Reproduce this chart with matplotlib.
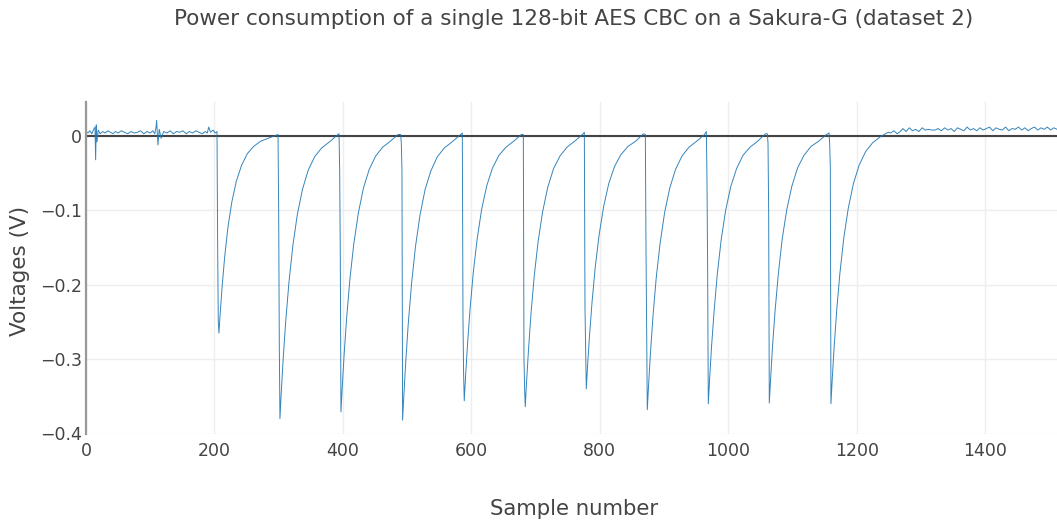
import matplotlib
matplotlib.use("Agg")
import matplotlib.pyplot as plt

# ---------------- text ----------------
title = "Power consumption of a single 128-bit AES CBC on a Sakura-G (dataset 2)"
x_label = "Sample number"
y_label = "Voltages (V)"
x_ticks = [0, 200, 400, 600, 800, 1000, 1200, 1400]
x_tick_labels = ["0", "200", "400", "600", "800", "1000", "1200", "1400"]
y_ticks = [0, -0.1, -0.2, -0.3, -0.4]
y_tick_labels = ["0", "\u22120.1", "\u22120.2", "\u22120.3", "\u22120.4"]

# ---------------- data ----------------
# idle baseline before the first round
pre_samples = [0, 3, 6, 9, 12, 14, 15, 16, 17, 19, 22, 26, 30, 34, 38, 42, 46, 50,
               55, 60, 65, 70, 75, 80, 85, 90, 95, 100, 104, 107, 109, 110, 112,
               114, 117, 121, 126, 131, 136, 141, 146, 151, 156, 161, 166, 171,
               176, 181, 186, 189, 191, 194, 198, 201, 204]
pre_volts = [0.006, 0.004, 0.007, 0.003, 0.009, 0.012, -0.032, 0.015, -0.008, 0.008,
             0.003, 0.006, 0.004, 0.007, 0.005, 0.003, 0.006, 0.004, 0.007, 0.005,
             0.003, 0.006, 0.004, 0.005, 0.007, 0.003, 0.006, 0.004, 0.007, 0.003,
             0.011, 0.021, -0.012, 0.009, -0.003, 0.006, 0.004, 0.007, 0.003, 0.006,
             0.005, 0.007, 0.003, 0.006, 0.004, 0.007, 0.005, 0.003, 0.006, 0.004,
             0.012, 0.005, 0.008, 0.004, 0.006]

# start sample of each round's current draw (drop), and the shape after it
drop_samples = [204, 299, 394, 490, 586, 681, 776, 871, 966, 1061, 1157]
dip_offsets = [1, 2, 3, 5, 8, 12, 17, 23, 30, 38, 47, 57, 68, 80, 92]

dip01_volts = [-0.150, -0.250, -0.265, -0.238, -0.202, -0.162, -0.123, -0.089, -0.061,
               -0.040, -0.024, -0.014, -0.007, -0.003, 0.001]
dip02_volts = [-0.100, -0.280, -0.380, -0.346, -0.300, -0.249, -0.197, -0.148, -0.106,
               -0.072, -0.046, -0.028, -0.016, -0.008, 0.001]
dip03_volts = [-0.046, -0.163, -0.371, -0.338, -0.293, -0.243, -0.192, -0.145, -0.104,
               -0.070, -0.045, -0.027, -0.015, -0.007, 0.002]
dip04_volts = [-0.010, -0.046, -0.382, -0.348, -0.302, -0.250, -0.198, -0.149, -0.107,
               -0.072, -0.047, -0.028, -0.016, -0.008, 0.001]
dip05_volts = [-0.244, -0.320, -0.356, -0.324, -0.281, -0.233, -0.184, -0.139, -0.099,
               -0.067, -0.043, -0.026, -0.015, -0.007, 0.002]
dip06_volts = [-0.300, -0.340, -0.364, -0.331, -0.288, -0.238, -0.188, -0.142, -0.102,
               -0.069, -0.044, -0.027, -0.015, -0.007, 0.002]
dip07_volts = [-0.230, -0.290, -0.340, -0.309, -0.269, -0.223, -0.176, -0.133, -0.095,
               -0.064, -0.041, -0.025, -0.014, -0.007, 0.003]
dip08_volts = [-0.150, -0.260, -0.368, -0.335, -0.291, -0.241, -0.190, -0.144, -0.103,
               -0.070, -0.045, -0.027, -0.015, -0.007, 0.002]
dip09_volts = [-0.063, -0.180, -0.360, -0.328, -0.284, -0.236, -0.186, -0.140, -0.100,
               -0.068, -0.044, -0.026, -0.015, -0.007, 0.003]
dip10_volts = [-0.010, -0.100, -0.359, -0.327, -0.283, -0.235, -0.186, -0.139, -0.100,
               -0.068, -0.043, -0.026, -0.014, -0.007, 0.002]
dip11_volts = [-0.010, -0.040, -0.360, -0.327, -0.283, -0.234, -0.184, -0.137, -0.097,
               -0.064, -0.039, -0.021, -0.009, -0.001, 0.005]
dip_volts = [dip01_volts, dip02_volts, dip03_volts, dip04_volts, dip05_volts,
             dip06_volts, dip07_volts, dip08_volts, dip09_volts, dip10_volts,
             dip11_volts]
dip_lead_volts = [0.006, 0.002, 0.003, 0.002, 0.004, 0.002, 0.005, 0.002, 0.006,
                  0.003, 0.004]

# idle baseline after the last round
post_samples = [1253, 1258, 1263, 1268, 1272, 1277, 1282, 1287, 1292, 1297, 1302,
                1307, 1312, 1317, 1322, 1327, 1332, 1337, 1342, 1347, 1352, 1357,
                1362, 1367, 1372, 1377, 1382, 1387, 1392, 1397, 1402, 1407, 1412,
                1417, 1422, 1427, 1432, 1437, 1442, 1447, 1452, 1457, 1462, 1467,
                1472, 1477, 1482, 1487, 1492, 1497, 1502, 1507, 1512]
post_volts = [0.004, 0.007, 0.003, 0.006, 0.010, 0.006, 0.011, 0.007, 0.009, 0.006,
              0.011, 0.008, 0.009, 0.008, 0.008, 0.010, 0.007, 0.011, 0.008, 0.010,
              0.006, 0.011, 0.009, 0.007, 0.012, 0.008, 0.010, 0.007, 0.011, 0.008,
              0.010, 0.012, 0.007, 0.011, 0.009, 0.008, 0.012, 0.007, 0.010, 0.009,
              0.012, 0.008, 0.011, 0.007, 0.010, 0.012, 0.008, 0.011, 0.009, 0.012,
              0.008, 0.011, 0.009]

# assemble the trace
samples = list(pre_samples)
volts = list(pre_volts)
for start, lead, vals in zip(drop_samples, dip_lead_volts, dip_volts):
    samples.append(start)
    volts.append(lead)
    samples.extend(start + o for o in dip_offsets)
    volts.extend(vals)
samples.extend(post_samples)
volts.extend(post_volts)

# ---------------- figure ----------------
W, H = 1057, 520
fig = plt.figure(figsize=(W / 100, H / 100), dpi=100)
fig.patch.set_facecolor("white")
ax = fig.add_axes([86 / W, 1 - 433.5 / H, (W - 86) / W, (433.5 - 102) / H])
ax.set_facecolor("white")

ax.plot(samples, volts, color="#1f77b4", lw=0.7, alpha=0.9, zorder=3)
ax.axhline(0, color="#444444", lw=1.5, zorder=2)

ax.set_xlim(0, 1512)
ax.set_ylim(-0.4, 0.0457)
ax.set_xticks(x_ticks)
ax.set_xticklabels(x_tick_labels)
ax.set_yticks(y_ticks)
ax.set_yticklabels(y_tick_labels)
ax.grid(True, color="#eeeeee", lw=1.0, zorder=0)
ax.set_axisbelow(True)

for s in ["top", "right", "bottom"]:
    ax.spines[s].set_visible(False)
ax.spines["left"].set_color("#999999")
ax.spines["left"].set_linewidth(1.6)
ax.spines["left"].set_zorder(4)

ax.tick_params(axis="both", length=0, labelsize=12.5, labelcolor="#444444")
ax.tick_params(axis="x", pad=6)
ax.tick_params(axis="y", pad=3)

fig.text(574 / W, 1 - 19 / H, title, ha="center", va="center",
         fontsize=15.5, color="#444444")
fig.text(574 / W, 1 - 509 / H, x_label, ha="center", va="center",
         fontsize=15.3, color="#444444")
fig.text(20 / W, 1 - 271 / H, y_label, ha="center", va="center",
         rotation=90, fontsize=15.5, color="#444444")

fig.savefig("out.png", dpi=100, facecolor="white")
